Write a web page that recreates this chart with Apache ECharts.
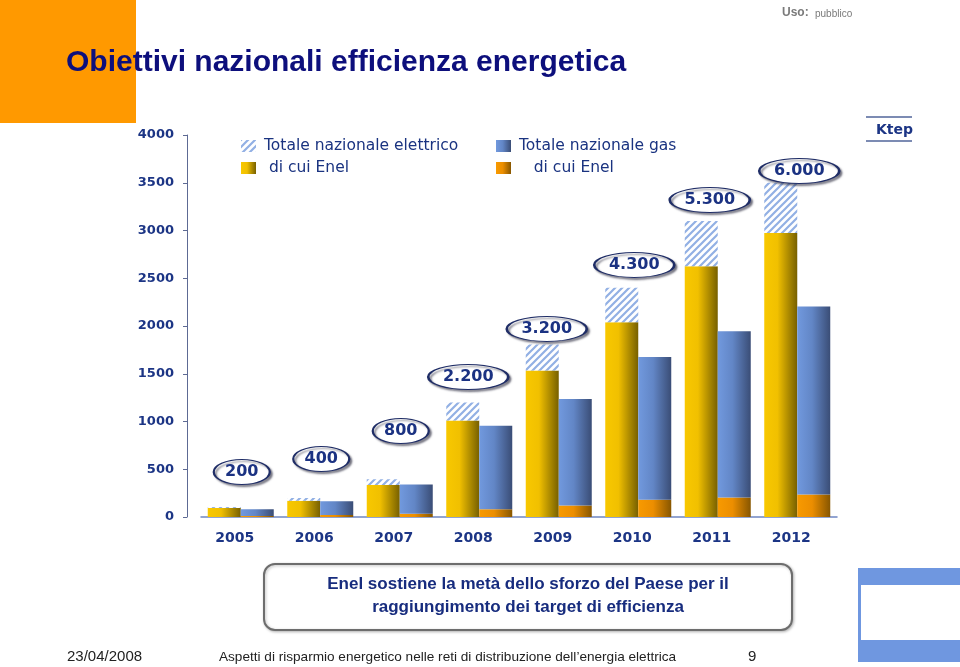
<!DOCTYPE html>
<html>
<head>
<meta charset="utf-8">
<script src="https://cdn.jsdelivr.net/npm/echarts@6/dist/echarts.min.js"></script>
<style>
html,body{margin:0;padding:0;background:#fff;}
#chart{width:960px;height:667px;}
</style>
</head>
<body>
<div id="chart"></div>
<script>
// ---- data (Ktep) ----
var years = ['2005','2006','2007','2008','2009','2010','2011','2012'];
var elecEnel   = [95, 170, 335, 1010, 1535, 2040, 2625, 2975];   // di cui Enel (elettrico)
var elecTotal  = [105, 200, 395, 1200, 1805, 2400, 3100, 3500];  // Totale nazionale elettrico
var gasTotal   = [80, 165, 340, 955, 1235, 1675, 1945, 2205];    // Totale nazionale gas
var gasEnel    = [10, 20, 35, 80, 120, 180, 205, 235];           // di cui Enel (gas)
var bubbleText = ['200','400','800','2.200','3.200','4.300','5.300','6.000'];
var bubbleY    = [471, 607, 900, 1466, 1969, 2639, 3319, 3623];
var yTicks     = [0, 500, 1000, 1500, 2000, 2500, 3000, 3500, 4000];
// ---- layout nudges (px) ----
var bubbleNudgeX = [1, 1, 1, -11, -12, -4, -8, 2];

var navy = '#1c3585';
var font = 'DejaVu Sans';

// hatch pattern
var pc = document.createElement('canvas');
pc.width = 7; pc.height = 7;
var g = pc.getContext('2d');
g.fillStyle = '#ffffff'; g.fillRect(0,0,7,7);
g.strokeStyle = '#92b0e4'; g.lineWidth = 2.2;
g.beginPath();
g.moveTo(-1,8); g.lineTo(8,-1);
g.moveTo(-1,1); g.lineTo(1,-1);
g.moveTo(6,8); g.lineTo(8,6);
g.stroke();
var hatch = {image: pc, repeat: 'repeat'};

function hgrad(stops){
  return new echarts.graphic.LinearGradient(0,0,1,0, stops.map(function(s){return {offset:s[0], color:s[1]};}));
}
var yellow = hgrad([[0,'#f8c800'],[0.4,'#f1c000'],[1,'#776000']]);
var blue   = hgrad([[0,'#7199de'],[0.45,'#6286c6'],[1,'#3a4d76']]);
var orange = hgrad([[0,'#f89a00'],[0.45,'#ec8e00'],[1,'#875600']]);

var hatchPart = elecTotal.map(function(v,i){return v - elecEnel[i];});
var bluePart  = gasTotal.map(function(v,i){return v - gasEnel[i];});

var ellipsePath = 'path://M0,50 A100,50 0 1,1 200,50 A100,50 0 1,1 0,50 Z';

var chart = echarts.init(document.getElementById('chart'), null, {renderer:'canvas'});

var legendNames = {
  'Totale nazionale elettrico':'Totale nazionale elettrico',
  'Enel elettrico':' di cui Enel',
  'Totale nazionale gas':'Totale nazionale gas',
  'Enel gas':'   di cui Enel'
};
function legendAt(name, left, top){
  return {
    data:[name], left:left, top:top, orient:'horizontal', padding:0,
    itemWidth:15, itemHeight:12, itemGap:0, selectedMode:false,
    icon:'rect',
    formatter: function(n){ return legendNames[n]; },
    textStyle:{fontFamily:font, fontSize:15.5, color:'#1a3380', padding:[0,0,0,3]}
  };
}

var option = {
  backgroundColor:'#ffffff',
  animation:false,
  grid:{left:201, right:123, top:135, bottom:150, containLabel:false},
  legend:[
    legendAt('Totale nazionale elettrico', 241, 138),
    legendAt('Enel elettrico', 241, 160),
    legendAt('Totale nazionale gas', 496, 138),
    legendAt('Enel gas', 496, 160)
  ],
  xAxis:{
    type:'category', data:years,
    axisLine:{show:true, lineStyle:{color:'#6f86c2', width:1.5}},
    axisTick:{show:false},
    axisLabel:{fontFamily:font, fontWeight:'bold', fontSize:14, color:navy, margin:14, padding:[0,12,0,0]}
  },
  yAxis:{
    type:'value', min:yTicks[0], max:yTicks[yTicks.length-1], interval:yTicks[1]-yTicks[0],
    offset:14,
    axisLine:{show:true, lineStyle:{color:'#5d6a94', width:1}},
    axisTick:{show:true, inside:false, length:4, lineStyle:{color:'#5d6a94'}},
    splitLine:{show:false},
    axisLabel:{fontFamily:font, fontWeight:'bold', fontSize:13, color:navy, margin:13,
               formatter:function(v){return String(v);}}
  },
  series:[
    {name:'Enel elettrico', type:'bar', stack:'el', data:elecEnel, barWidth:33, barGap:'0%',
     itemStyle:{color:yellow}},
    {name:'Totale nazionale elettrico', type:'bar', stack:'el', data:hatchPart, barWidth:33, barGap:'0%',
     itemStyle:{color:hatch}},
    {name:'Enel gas', type:'bar', stack:'gas', data:gasEnel, barWidth:33, barGap:'0%',
     itemStyle:{color:orange}},
    {name:'Totale nazionale gas', type:'bar', stack:'gas', data:bluePart, barWidth:33, barGap:'0%',
     itemStyle:{color:blue}},
    {name:'bubbles', type:'scatter', z:5,
     data: bubbleText.map(function(t,i){
       return {value:[i, bubbleY[i]], symbolSize: t.length > 3 ? [80,25] : [56,25],
               symbolOffset:[bubbleNudgeX[i],0], label:{formatter:t}};
     }),
     symbol: ellipsePath,
     itemStyle:{color:'#ffffff', opacity:1, borderColor:'#1f2d66', borderWidth:1.5,
                shadowColor:'rgba(40,40,60,0.55)', shadowBlur:2, shadowOffsetX:2, shadowOffsetY:2},
     label:{show:true, position:'inside', fontFamily:font, fontWeight:'bold', fontSize:16, color:'#1b3282'},
     emphasis:{disabled:true}}
  ],
  graphic:[
    {type:'rect', left:0, top:0, z:-1, shape:{width:136, height:123}, style:{fill:'#ff9900'}},
    {type:'text', x:66, y:63, z:10, style:{text:'Obiettivi nazionali efficienza energetica',
      fontFamily:'Liberation Sans', fontWeight:'bold', fontSize:30, fill:'#0d0f7c', verticalAlign:'middle'}},
    {type:'text', left:782, top:7, style:{text:'Uso:', fontFamily:'Liberation Sans', fontWeight:'bold', fontSize:12, fill:'#7a7a7a'}},
    {type:'text', left:815, top:9, style:{text:'pubblico', fontFamily:'Liberation Sans', fontSize:10, fill:'#7a7a7a'}},
    {type:'line', shape:{x1:866, y1:117, x2:912, y2:117}, style:{stroke:'#7c8bb3', lineWidth:2}},
    {type:'line', shape:{x1:866, y1:141, x2:912, y2:141}, style:{stroke:'#7c8bb3', lineWidth:2}},
    {type:'text', left:876, top:123, style:{text:'Ktep', fontFamily:font, fontWeight:'bold', fontSize:14, fill:navy}},
    {type:'rect', shape:{x:264, y:564, width:528, height:66, r:11},
     style:{fill:'#ffffff', stroke:'#6d6d6d', lineWidth:2, shadowColor:'rgba(0,0,0,0.25)', shadowBlur:3, shadowOffsetX:1, shadowOffsetY:1}},
    {type:'text', x:528, y:584, style:{text:'Enel sostiene la metà dello sforzo del Paese per il',
      fontFamily:'Liberation Sans', fontWeight:'bold', fontSize:17, fill:'#172c7e', align:'center', verticalAlign:'middle'}},
    {type:'text', x:528, y:607, style:{text:'raggiungimento dei target di efficienza',
      fontFamily:'Liberation Sans', fontWeight:'bold', fontSize:17, fill:'#172c7e', align:'center', verticalAlign:'middle'}},
    {type:'text', x:67, y:657, style:{text:'23/04/2008', fontFamily:'Liberation Sans', fontSize:15, fill:'#222', verticalAlign:'middle'}},
    {type:'text', x:219, y:657, style:{text:'Aspetti di risparmio energetico nelle reti di distribuzione dell\u2019energia elettrica',
      fontFamily:'Liberation Sans', fontSize:13.6, fill:'#222', verticalAlign:'middle'}},
    {type:'text', x:748, y:657, style:{text:'9', fontFamily:'Liberation Sans', fontSize:15, fill:'#222', verticalAlign:'middle'}},
    {type:'rect', shape:{x:858, y:568, width:102, height:17}, style:{fill:'#6f97e0'}},
    {type:'rect', shape:{x:858, y:585, width:3, height:55}, style:{fill:'#6f97e0'}},
    {type:'rect', shape:{x:858, y:640, width:102, height:22}, style:{fill:'#6f97e0'}}
  ]
};
chart.setOption(option);
</script>
</body>
</html>
